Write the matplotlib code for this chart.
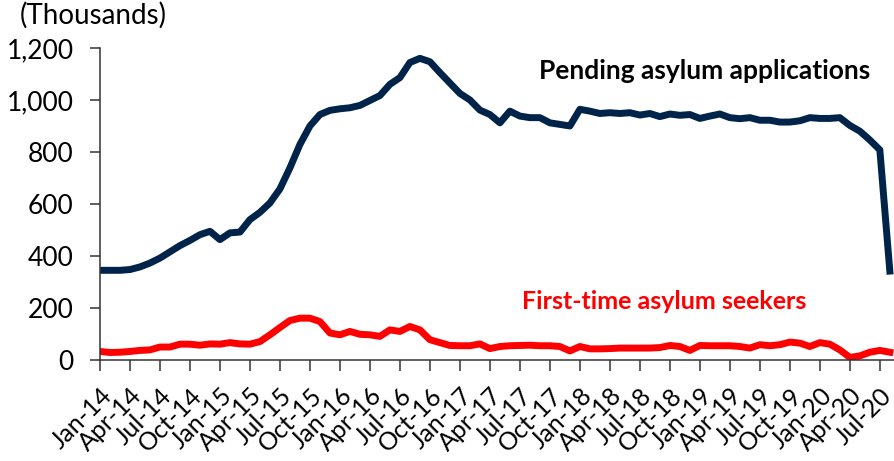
import pandas as pd
import matplotlib
matplotlib.use('Agg')
import matplotlib.pyplot as plt

# monthly, Jan-14 .. Aug-20, thousands
months = pd.date_range('2014-01-01', '2020-08-01', freq='MS')
month_labels = [m.strftime('%b-%y') for m in months]

pending = [345, 345, 345, 348, 358, 373, 392, 416, 440, 460, 482, 495,
           463, 489, 492, 540, 568, 604, 658, 739, 829, 900, 944, 960,
           966, 970, 979, 998, 1017, 1060, 1086, 1144, 1160, 1147, 1105, 1065,
           1025, 1000, 961, 944, 912, 957, 938, 932, 932, 912, 906, 900,
           964, 957, 948, 951, 948, 951, 942, 948, 936, 946, 941, 944,
           929, 938, 946, 932, 928, 932, 922, 922, 915, 915, 920, 932,
           929, 929, 932, 902, 880, 846, 808, 342]

first_time = [33, 29, 30, 33, 37, 39, 50, 50, 61, 61, 57, 62,
              61, 67, 62, 61, 71, 97, 125, 152, 161, 161, 148, 104,
              97, 110, 99, 97, 91, 116, 110, 129, 116, 78, 67, 56,
              55, 55, 62, 44, 52, 55, 56, 57, 55, 55, 52, 35,
              52, 43, 43, 44, 46, 46, 46, 46, 48, 56, 52, 37,
              56, 55, 55, 55, 52, 46, 59, 55, 59, 69, 65, 52,
              67, 61, 39, 10, 16, 30, 37, 30]

plt.rcParams['font.family'] = ['Lato', 'DejaVu Sans']

fig = plt.figure(figsize=(8.95, 4.61), dpi=100)
ax = fig.add_axes([0.1117, 0.219, 0.887, 0.677])

x = list(range(len(months)))
ax.plot(x, pending, color='#00234a', lw=5, solid_joinstyle='round')
ax.plot(x, first_time, color='#ff0000', lw=5, solid_joinstyle='round')

ax.set_ylim(0, 1200)
ax.set_xlim(0, 79.4)
ax.set_yticks(range(0, 1201, 200))
ax.set_yticklabels([f'{v:,}' for v in range(0, 1201, 200)], fontsize=19)
ax.set_xticks(x[::3])
ax.set_xticklabels(month_labels[::3], rotation=45, ha='right',
                   rotation_mode='anchor', fontsize=18)

for s in ['top', 'right']:
    ax.spines[s].set_visible(False)
for s in ['left', 'bottom']:
    ax.spines[s].set_color('#333333')
    ax.spines[s].set_linewidth(1.1)
ax.tick_params(axis='y', direction='out', length=7, width=1.1, color='#333333', pad=12)
ax.tick_params(axis='x', direction='out', length=8, width=1.1, color='#333333', pad=9)

fig.text(0.022, 0.967, '(Thousands)', fontsize=20, ha='left', va='center')

ax.text(60.45, 1110, 'Pending asylum applications', fontsize=19,
        fontweight='bold', color='black', ha='center', va='center')
ax.text(56.4, 224, 'First-time asylum seekers', fontsize=18,
        fontweight='bold', color='#ff0000', ha='center', va='center')

fig.savefig('out.png', dpi=100)
